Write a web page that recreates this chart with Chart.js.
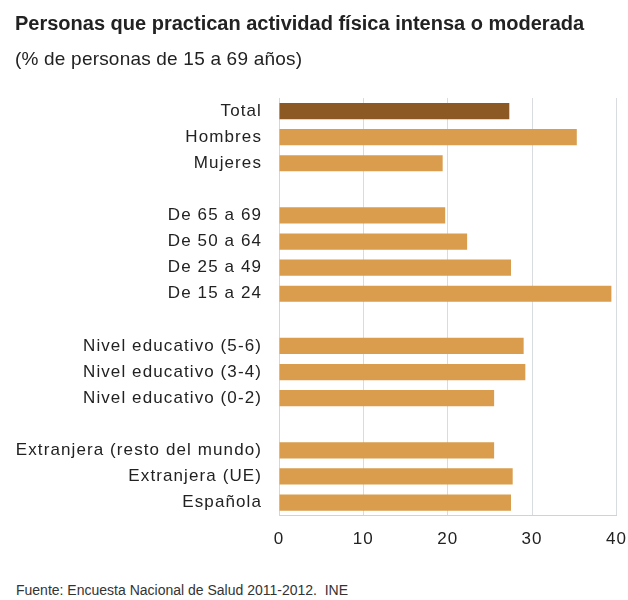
<!DOCTYPE html>
<html>
<head>
<meta charset="utf-8">
<script src="https://cdn.jsdelivr.net/npm/chart.js@4"></script>
<style>
  body { margin: 0; background: #fff; overflow: hidden; }
  #wrap { position: relative; width: 628px; height: 600px; overflow: hidden; font-family: "Liberation Sans", Arial, sans-serif; color: #222; }
  #actividadChart { position: absolute; left: 0; top: 0; }
  .texto { position: absolute; left: 15px; white-space: nowrap; }
  #titulo { top: 13px; font-size: 20px; line-height: 20px; font-weight: bold; }
  #subtitulo { top: 49px; font-size: 19px; line-height: 19px; letter-spacing: 0.2px; }
  #fuente { left: 16px; top: 583px; font-size: 14px; line-height: 14px; color: #333; }
</style>
</head>
<body>
<div id="wrap">
  <!-- el lienzo sobresale un poco a la derecha: Chart.js reserva ahí el hueco del rótulo "40" -->
  <canvas id="actividadChart" width="641" height="564"></canvas>
  <div id="titulo" class="texto">Personas que practican actividad física intensa o moderada</div>
  <div id="subtitulo" class="texto">(% de personas de 15 a 69 años)</div>
  <div id="fuente" class="texto">Fuente: Encuesta Nacional de Salud 2011-2012.&nbsp; INE</div>
</div>
<script>
// Categorías (las cadenas vacías dejan un hueco entre grupos)
const categorias = [
    'Total', 'Hombres', 'Mujeres', '',
    'De 65 a 69', 'De 50 a 64', 'De 25 a 49', 'De 15 a 24', '',
    'Nivel educativo (5-6)', 'Nivel educativo (3-4)', 'Nivel educativo (0-2)', '',
    'Extranjera (resto del mundo)', 'Extranjera (UE)', 'Española'
];

// % de personas que practican actividad física intensa o moderada
const porcentajes = [
    27.3, 35.3, 19.4, null,
    19.7, 22.3, 27.5, 39.4, null,
    29.0, 29.2, 25.5, null,
    25.5, 27.7, 27.5
];

const ticksX = [0, 10, 20, 30, 40];

const colorTotal = '#8c5823';
const colorBarra = '#d99d4d';

// Las etiquetas de los ejes van algo espaciadas
const espaciadoLetras = {
    id: 'espaciadoLetras',
    beforeLayout(chart) { chart.ctx.letterSpacing = '1.1px'; },
    beforeDraw(chart) { chart.ctx.letterSpacing = '1.1px'; }
};

document.addEventListener('DOMContentLoaded', function() {
    const ctx = document.getElementById('actividadChart');
    new Chart(ctx, {
        type: 'bar',
        data: {
            labels: categorias,
            datasets: [{
                data: porcentajes,
                backgroundColor: categorias.map(c => c === 'Total' ? colorTotal : colorBarra),
                borderWidth: 0,
                barPercentage: 0.62,
                categoryPercentage: 1
            }]
        },
        plugins: [espaciadoLetras],
        options: {
            indexAxis: 'y',
            responsive: false,
            animation: false,
            layout: { padding: { left: 0, right: 0, top: 98, bottom: 0 } },
            scales: {
                x: {
                    min: 0,
                    max: 40,
                    afterBuildTicks(scale) {
                        scale.ticks = ticksX.map(v => ({ value: v }));
                    },
                    grid: { color: '#d8dbdf', drawTicks: false },
                    border: { color: '#cdd3da' },
                    ticks: {
                        padding: 14,
                        color: '#222',
                        font: { family: '"Liberation Sans", Arial, sans-serif', size: 17 }
                    }
                },
                y: {
                    grid: { display: false, drawTicks: false },
                    border: { color: '#d6d6d6' },
                    afterFit(scale) { scale.width = 279; },
                    ticks: {
                        padding: 17,
                        color: '#222',
                        autoSkip: false,
                        font: { family: '"Liberation Sans", Arial, sans-serif', size: 17 }
                    }
                }
            },
            plugins: {
                legend: { display: false },
                tooltip: { enabled: false },
                title: { display: false }
            }
        }
    });
});
</script>
</body>
</html>
